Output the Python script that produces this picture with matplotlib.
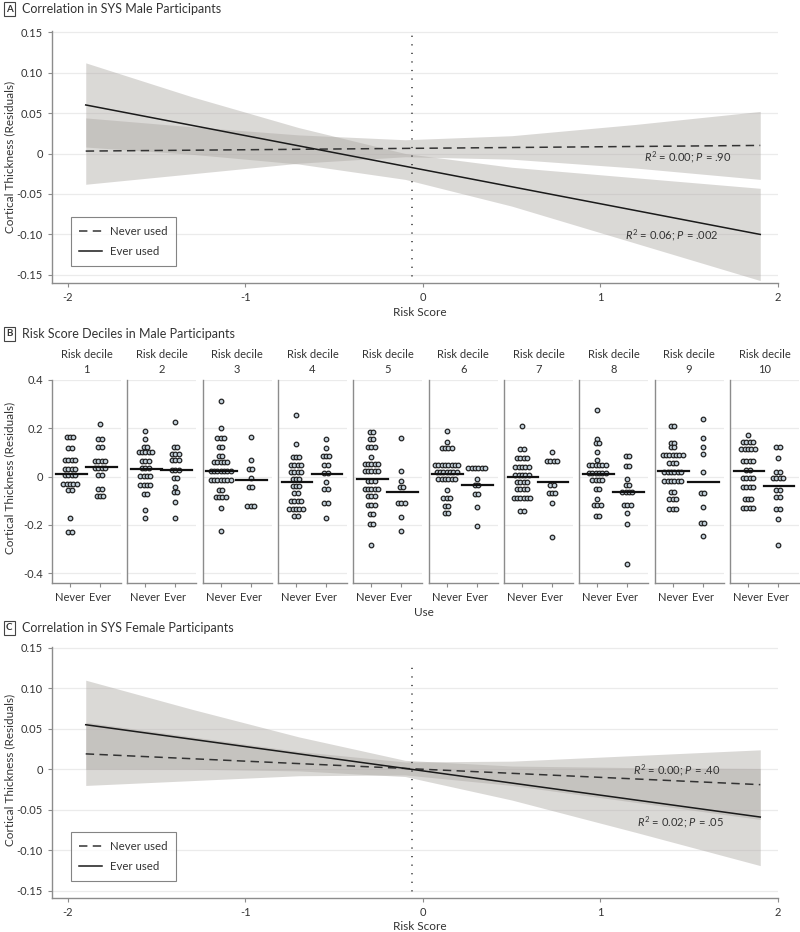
import numpy as np
import matplotlib
matplotlib.use("Agg")
import matplotlib.pyplot as plt

plt.rcParams['font.family'] = ['Lato', 'DejaVu Sans']
plt.rcParams['mathtext.fontset'] = 'custom'
plt.rcParams['mathtext.rm'] = 'Lato'
plt.rcParams['mathtext.it'] = 'Lato:italic'

TXT = '#333333'
SPINE = '#8c8c8c'
GRID = '#ebebeb'
BAND = '#aba7a2'

# ---- Panel A: male participants, fitted lines and 95% bands ----
line_x = [-1.9, 1.9]
a_never_line = [0.003, 0.010]
a_ever_line = [0.060, -0.100]
band_x = [-1.9, -1.3, -0.7, -0.1, 0.5, 1.2, 1.9]
a_never_hi = [0.044, 0.033, 0.023, 0.017, 0.022, 0.036, 0.052]
a_never_lo = [-0.038, -0.025, -0.012, -0.004, -0.007, -0.018, -0.032]
a_ever_hi = [0.112, 0.070, 0.032, 0.000, -0.017, -0.030, -0.043]
a_ever_lo = [0.008, -0.001, -0.013, -0.032, -0.065, -0.111, -0.157]

# ---- Panel C: female participants ----
c_never_line = [0.019, -0.019]
c_ever_line = [0.055, -0.059]
c_never_hi = [0.058, 0.040, 0.022, 0.009, 0.010, 0.017, 0.024]
c_never_lo = [-0.020, -0.014, -0.008, -0.007, -0.020, -0.041, -0.062]
c_ever_hi = [0.110, 0.074, 0.040, 0.011, 0.004, 0.002, 0.001]
c_ever_lo = [0.000, 0.000, -0.002, -0.009, -0.038, -0.078, -0.119]

mean_risk = -0.06

# ---- Panel B: residuals by risk decile, (value, number of dots) ----
deciles = [1, 2, 3, 4, 5, 6, 7, 8, 9, 10]
never_rows = [
    [(0.165, 3), (0.117, 2), (0.069, 4), (0.030, 4), (0.006, 4), (-0.030, 5), (-0.056, 2), (-0.170, 1), (-0.228, 2)],
    [(0.187, 1), (0.154, 1), (0.124, 2), (0.102, 5), (0.066, 3), (0.034, 3), (0.002, 4), (-0.033, 4), (-0.071, 2), (-0.139, 1), (-0.170, 1)],
    [(0.315, 1), (0.203, 1), (0.159, 3), (0.121, 2), (0.085, 2), (0.060, 5), (0.023, 7), (-0.015, 7), (-0.055, 2), (-0.084, 4), (-0.131, 1), (-0.226, 1)],
    [(0.255, 1), (0.134, 1), (0.082, 3), (0.049, 4), (0.020, 4), (-0.012, 3), (-0.038, 3), (-0.070, 2), (-0.102, 4), (-0.134, 5), (-0.164, 2)],
    [(0.185, 2), (0.154, 2), (0.121, 3), (0.082, 1), (0.052, 5), (0.023, 5), (-0.017, 3), (-0.051, 5), (-0.081, 3), (-0.117, 3), (-0.154, 2), (-0.196, 2), (-0.282, 1)],
    [(0.189, 1), (0.145, 1), (0.118, 4), (0.048, 8), (0.019, 7), (-0.009, 6), (-0.056, 1), (-0.088, 3), (-0.121, 2), (-0.153, 2)],
    [(0.208, 1), (0.114, 2), (0.077, 4), (0.038, 5), (0.006, 5), (-0.021, 4), (-0.052, 4), (-0.087, 6), (-0.142, 2)],
    [(0.275, 1), (0.154, 1), (0.138, 2), (0.100, 1), (0.069, 1), (0.048, 6), (0.016, 6), (-0.016, 4), (-0.052, 2), (-0.095, 1), (-0.117, 3), (-0.165, 2)],
    [(0.210, 2), (0.138, 2), (0.121, 2), (0.088, 7), (0.055, 3), (0.017, 6), (-0.017, 6), (-0.066, 2), (-0.093, 3), (-0.135, 3)],
    [(0.172, 1), (0.143, 4), (0.114, 5), (0.063, 4), (0.027, 2), (-0.005, 4), (-0.045, 4), (-0.093, 3), (-0.129, 4)],
]
ever_rows = [
    [(0.217, 1), (0.154, 2), (0.121, 2), (0.066, 4), (0.034, 4), (0.005, 2), (-0.053, 2), (-0.080, 3)],
    [(0.228, 1), (0.124, 2), (0.092, 3), (0.069, 3), (0.028, 3), (-0.006, 2), (-0.045, 1), (-0.063, 2), (-0.107, 1), (-0.170, 1)],
    [(0.163, 1), (0.069, 1), (0.030, 2), (-0.005, 1), (-0.042, 2), (-0.122, 3)],
    [(0.156, 1), (0.117, 1), (0.085, 3), (0.049, 2), (0.013, 2), (-0.024, 1), (-0.051, 2), (-0.109, 2), (-0.172, 1)],
    [(0.160, 1), (0.023, 1), (-0.017, 1), (-0.044, 2), (-0.109, 3), (-0.167, 1), (-0.225, 1)],
    [(0.035, 6), (-0.012, 1), (-0.033, 2), (-0.074, 2), (-0.125, 1), (-0.204, 1)],
    [(0.102, 1), (0.063, 4), (-0.033, 2), (-0.067, 3), (-0.111, 1), (-0.250, 1)],
    [(0.087, 2), (0.044, 2), (-0.012, 1), (-0.033, 2), (-0.066, 4), (-0.117, 3), (-0.153, 1), (-0.197, 1), (-0.363, 1)],
    [(0.237, 1), (0.158, 1), (0.124, 1), (0.093, 1), (0.019, 1), (-0.067, 2), (-0.127, 1), (-0.194, 2), (-0.246, 1)],
    [(0.124, 2), (0.078, 1), (0.020, 2), (-0.008, 4), (-0.056, 2), (-0.084, 2), (-0.135, 2), (-0.177, 1), (-0.284, 1)],
]
never_mean = [0.010, 0.030, 0.024, -0.023, -0.009, 0.010, -0.003, 0.010, 0.023, 0.023]
ever_mean = [0.039, 0.028, -0.016, 0.009, -0.064, -0.033, -0.023, -0.066, -0.024, -0.041]

W, H = 800, 932
fig = plt.figure(figsize=(W / 100, H / 100), dpi=100)


def px_rect(left, top, right, bottom):
    return [left / W, 1 - bottom / H, (right - left) / W, (bottom - top) / H]


def style_axes(ax):
    for s in ['top', 'right']:
        ax.spines[s].set_visible(False)
    for s in ['left', 'bottom']:
        ax.spines[s].set_color(SPINE)
        ax.spines[s].set_linewidth(1.0)
    ax.tick_params(colors=SPINE, labelcolor=TXT, labelsize=8, length=3, width=0.8)
    ax.grid(axis='y', color=GRID, linewidth=0.9)
    ax.set_axisbelow(True)


def panel_label(letter, title, y):
    fig.text(6 / W, 1 - y / H, letter, fontsize=7, fontweight='bold', color=TXT,
             ha='left', va='center',
             bbox=dict(boxstyle='square,pad=0.25', fc='white', ec='#444444', lw=0.8))
    fig.text(22 / W, 1 - y / H, title, fontsize=9, color=TXT, ha='left', va='center')


def line_panel(rect, never_line, ever_line, nhi, nlo, ehi, elo, vtop, notes):
    ax = fig.add_axes(rect)
    style_axes(ax)
    ax.fill_between(band_x, nlo, nhi, color=BAND, alpha=0.43, lw=0)
    ax.fill_between(band_x, elo, ehi, color=BAND, alpha=0.43, lw=0)
    ax.plot(line_x, never_line, color='#333333', lw=1.1, ls=(0, (5.5, 3.5)), label='Never used')
    ax.plot(line_x, ever_line, color='#1a1a1a', lw=1.1, label='Ever used')
    ax.plot([mean_risk, mean_risk], [-0.162, vtop], color='#333333', lw=1.1, ls=(0, (0.8, 4.8)))
    ax.set_xlim(-2.09, 2.0)
    ax.set_xticks([-2, -1, 0, 1, 2])
    ax.set_xticklabels(['-2', '-1', '0', '1', '2'])
    ax.set_yticks([-0.15, -0.10, -0.05, 0, 0.05, 0.10, 0.15])
    ax.set_yticklabels(['-0.15', '-0.10', '-0.05', '0', '0.05', '0.10', '0.15'])
    leg = ax.legend(loc='lower left', bbox_to_anchor=(0.018, 0.045), fontsize=8.2,
                    frameon=True, fancybox=False, edgecolor='#666666',
                    handlelength=2.0, borderpad=0.75, labelspacing=0.85,
                    handletextpad=0.7)
    leg.get_frame().set_linewidth(0.8)
    for t in leg.get_texts():
        t.set_color(TXT)
    for x, y, s in notes:
        ax.text(x, y, s, fontsize=8, color=TXT, ha='center', va='center')
    return ax


# Panel A
panel_label('A', 'Correlation in SYS Male Participants', 9)
axA = line_panel(px_rect(52, 30.5, 778, 283), a_never_line, a_ever_line,
                 a_never_hi, a_never_lo, a_ever_hi, a_ever_lo, 0.152,
                 [(1.49, -0.004, r'$R^2$ = 0.00; $P$ = .90'),
                  (1.40, -0.101, r'$R^2$ = 0.06; $P$ = .002')])
axA.set_ylim(-0.160, 0.152)
fig.text(420 / W, 1 - 312 / H, 'Risk Score', fontsize=8.5, color=TXT, ha='center', va='center')
fig.text(10 / W, 1 - 157 / H, 'Cortical Thickness (Residuals)', fontsize=8.5, color=TXT,
         rotation=90, ha='center', va='center')

# Panel B
panel_label('B', 'Risk Score Deciles in Male Participants', 334)
dx = 0.11
for i, d in enumerate(deciles):
    left = 52 + 75.33 * i
    ax = fig.add_axes(px_rect(left, 380, left + 69, 583))
    style_axes(ax)
    for xc, rows, m in [(0, never_rows[i], never_mean[i]), (1, ever_rows[i], ever_mean[i])]:
        xs, ys = [], []
        for val, n in rows:
            for k in range(n):
                xs.append(xc + (k - (n - 1) / 2) * dx)
                ys.append(val)
        ax.plot(xs, ys, 'o', ms=3.3, mfc='#c3d1db', mec='#222222', mew=0.9, zorder=3)
        ax.plot([xc - 0.48, xc + 0.55], [m, m], color='#111111', lw=1.6, zorder=4)
    ax.set_xlim(-0.6, 1.7)
    ax.set_ylim(-0.441, 0.4)
    ax.set_xticks([0, 1])
    ax.set_xticklabels(['Never', 'Ever'])
    ax.set_yticks([-0.4, -0.2, 0, 0.2, 0.4])
    if i == 0:
        ax.set_yticklabels(['-0.4', '-0.2', '0', '0.2', '0.4'])
    else:
        ax.set_yticklabels([])
        ax.tick_params(axis='y', length=0)
    ax.set_title('Risk decile\n%d' % d, fontsize=8, color=TXT, pad=5, linespacing=1.5)
fig.text(10 / W, 1 - 478 / H, 'Cortical Thickness (Residuals)', fontsize=8.5, color=TXT,
         rotation=90, ha='center', va='center')
fig.text(424 / W, 1 - 612 / H, 'Use', fontsize=8.5, color=TXT, ha='center', va='center')

# Panel C
panel_label('C', 'Correlation in SYS Female Participants', 628)
axC = line_panel(px_rect(52, 647, 778, 898), c_never_line, c_ever_line,
                 c_never_hi, c_never_lo, c_ever_hi, c_ever_lo, 0.130,
                 [(1.43, -0.001, r'$R^2$ = 0.00; $P$ = .40'),
                  (1.45, -0.065, r'$R^2$ = 0.02; $P$ = .05')])
axC.set_ylim(-0.159, 0.151)
fig.text(420 / W, 1 - 926 / H, 'Risk Score', fontsize=8.5, color=TXT, ha='center', va='center')
fig.text(10 / W, 1 - 770 / H, 'Cortical Thickness (Residuals)', fontsize=8.5, color=TXT,
         rotation=90, ha='center', va='center')

fig.savefig('out.png', dpi=100, facecolor='white')
